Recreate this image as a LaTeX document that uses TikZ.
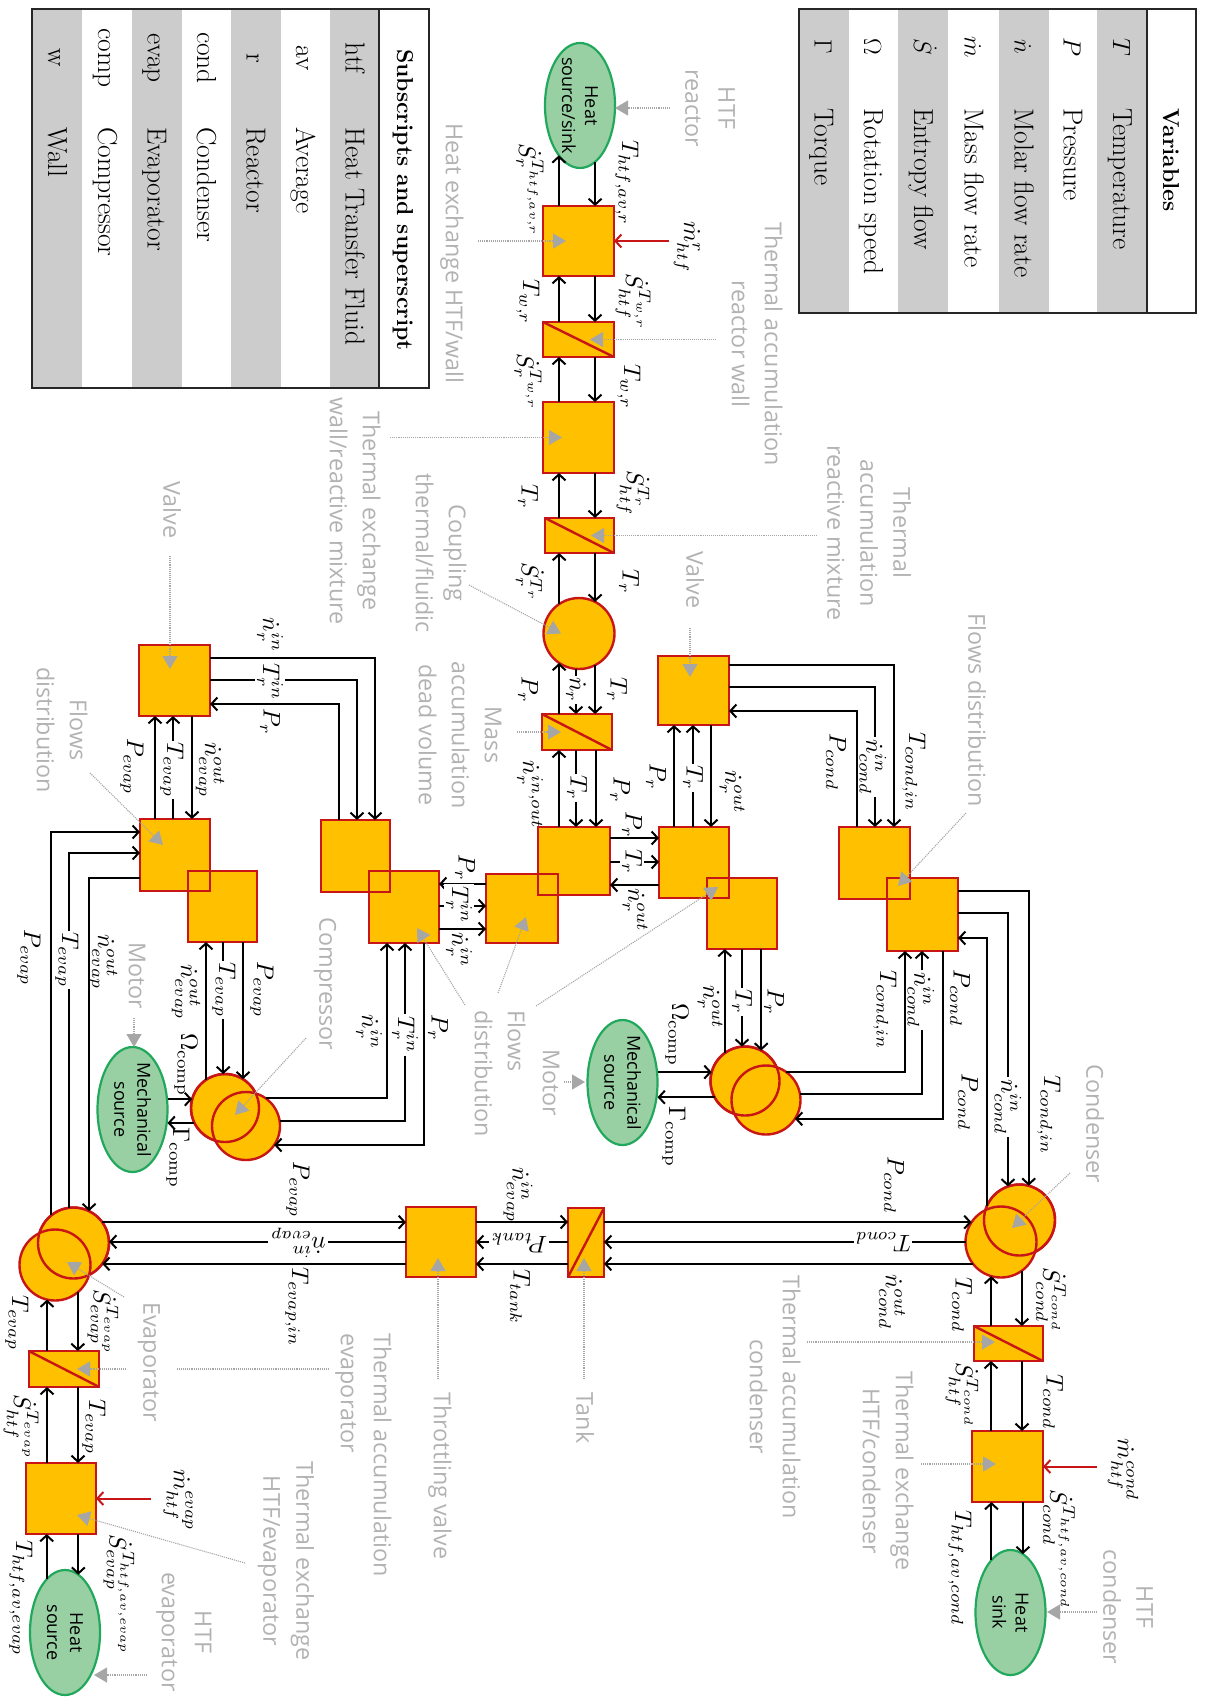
\documentclass[tikz,border=0pt]{standalone}
\usepackage{amsmath, amssymb}
\usepackage{fontspec}
\setsansfont{Open Sans}
\usepackage{tikz}
\usetikzlibrary{arrows.meta, calc, shapes.geometric}

\definecolor{blockfill}{RGB}{255,192,0}
\definecolor{blockred}{RGB}{200,22,22}
\definecolor{srcfill}{RGB}{152,208,164}
\definecolor{srcgreen}{RGB}{34,168,92}
\definecolor{notegrey}{RGB}{178,178,178}
\definecolor{tipgrey}{RGB}{166,166,166}
\definecolor{bandgrey}{RGB}{204,204,204}

\tikzset{
    block/.style={draw=blockred, fill=blockfill, line width=2.4pt, inner sep=0pt, outer sep=0pt},
    edge/.style={draw=blockred, line width=2.4pt},
    src/.style={ellipse, draw=srcgreen, fill=srcfill, line width=2.2pt, inner sep=0pt, outer sep=0pt,
        minimum width=70pt, minimum height=125pt},
    srclabel/.style={rotate=-90, align=center, inner sep=0pt, font=\sffamily\fontsize{18}{23}\selectfont},
    flow/.style={-{Straight Barb[length=6pt,width=13pt,line width=2pt]}, line width=2pt},
    redflow/.style={-{Straight Barb[length=6pt,width=13pt,line width=2pt]}, line width=2pt, color=blockred},
    lead/.style={-{Triangle[length=13pt,width=15pt]}, densely dotted, line width=1.1pt, color=tipgrey},
    leadplain/.style={densely dotted, line width=1.1pt, color=tipgrey},
    note/.style={rotate=-90, align=center, text=notegrey, inner sep=0pt, font=\sffamily\fontsize{23.3}{33}\selectfont},
    mlab/.style={rotate=-90, scale=2.4, inner sep=0.5pt},
    monl/.style={rotate=-90, scale=2.4, inner sep=0.8pt, fill=white},
    mrot/.style={rotate=180, scale=2.4, inner sep=0.8pt, fill=white},
    celltext/.style={rotate=-90, inner sep=0pt, text height=18pt, text depth=0pt, font=\fontsize{27.5}{30}\selectfont},
    headtext/.style={rotate=-90, inner sep=0pt, font=\bfseries\fontsize{23}{28}\selectfont},
    frame/.style={draw=black!85, line width=2.6pt},
}

\begin{document}
\begin{tikzpicture}[x=1pt, y=-1pt]
    \useasboundingbox (0,0) rectangle (1207,1698);

    % subscripts table
    \foreach \x in {32, 132, 231, 330} {
        \fill[bandgrey] (\x,9) rectangle (\x+49.5,388);
    }
    \draw[frame] (32,9) rectangle (429,388);
    \draw[frame] (379,9) -- (379,388);
    \node[headtext] (subhead) at (403,200) {Subscripts and superscript};
    \foreach \x/\a/\b [count=\i] in {354.5/htf/Heat Transfer Fluid, 305/av/Average, 255.5/r/Reactor, 206/cond/Condenser,
        156.5/evap/Evaporator, 107/comp/Compressor, 57/w/Wall} {
        \node[celltext] (subkey\i) at (\x,58) {\a};
        \node[celltext, anchor=west] (subval\i) at (\x,127) {\b};
    }

    % variables table
    \foreach \x in {799, 898, 999, 1097} {
        \fill[bandgrey] (\x,9) rectangle (\x+49.5,313);
    }
    \draw[frame] (799,9) rectangle (1196,313);
    \draw[frame] (1147,9) -- (1147,313);
    \node[headtext] (varhead) at (1171,160) {Variables};
    \foreach \x/\a/\b [count=\i] in {1122/T/Temperature, 1072.5/P/Pressure, 1023.5/\dot{n}/Molar flow rate, 973.5/\dot{m}/Mass flow rate,
        923/\dot{S}/Entropy flow, 873/\Omega/Rotation speed, 823.5/\Gamma/Torque} {
        \node[celltext] (varkey\i) at (\x,47) {$\a$};
        \node[celltext, anchor=west] (varval\i) at (\x,108) {\b};
    }

    % sources
    \node[src] (hsrs) at (580,105.5) {};
    \node[src] (mechl) at (132.5,1109.5) {};
    \node[src] (mechr) at (622.5,1082.5) {};
    \node[src] (hsrc) at (65,1632.5) {};
    \node[src] (hsink) at (1010.5,1612.5) {};
    \node[srclabel] (hsrstext) at (hsrs) {Heat\\source/sink};
    \node[srclabel] (mechltext) at (mechl) {Mechanical\\source};
    \node[srclabel] (mechrtext) at (mechr) {Mechanical\\source};
    \node[srclabel] (hsrctext) at (hsrc) {Heat\\source};
    \node[srclabel] (hsinktext) at (hsink) {Heat\\sink};

    % blocks
    \foreach \nm/\x/\y/\w/\h in {b1/578.5/241/71/70, b2/578.5/339.5/71/35, b3/578.5/437.5/71/71, b4/579.5/535.5/69/35,
        b5/577/732/70/36, b6/574/861/72/68, b7/522/908.5/72/69, rv/693.5/690.5/71/69, b8/694/862.5/70/71, b9/742/913.5/70/71,
        cda/874.5/863/71/72, cdb/922.5/914.5/71/73, lv/174.5/680.5/71/71, lda/175/855/70/72, ldb/222.5/906.5/69/71,
        ma/355.5/856/69/72, mb/404/907/70/72, thr/441/1242/70/70, tank/586/1242.5/36/69, eacc/64/1369/70.5/36,
        eex/61/1498.5/70/71, cacc/1008.5/1343.5/69/35, cex/1007.5/1466.5/71/71} {
        \node[block, minimum width=\w pt, minimum height=\h pt] (\nm) at (\x,\y) {};
    }
    \foreach \nm/\x/\y/\r in {cpl/579/633.5/35.5, lc1/225/1108/34, lc2/246/1126/34, rc1/745/1081/34.5, rc2/766/1100/34.5,
        ec1/73.5/1243/35.5, ec2/55/1265/35.5, cc1/1019.5/1220/35.5, cc2/1001/1242/35.5} {
        \node[block, circle, minimum size=2*\r pt] (\nm) at (\x,\y) {};
    }

    % outlines seen through the overlaps
    \foreach \nm in {b6, b8, cda, lda, ma} {
        \draw[edge] (\nm.north west) rectangle (\nm.south east);
    }
    \draw[edge] (lc1.center) circle[radius=34pt];
    \draw[edge] (rc1.center) circle[radius=34.5pt];
    \draw[edge] (ec1.center) circle[radius=35.5pt];
    \draw[edge] (cc1.center) circle[radius=35.5pt];

    % diagonals
    \foreach \nm in {b2, b4, b5, eacc, cacc} {
        \draw[edge] (\nm.north west) -- (\nm.south east);
    }
    \draw[edge] (tank.south west) -- (tank.north east);

    % reactor chain
    \draw[flow] (hsrs.247 |- b1.north) -- (hsrs.247);
    \draw[flow] (hsrs.285) -- (hsrs.285 |- b1.north);
    \draw[flow] (559,0 |- b2.north) -- (559,0 |- b1.south);
    \draw[flow] (595,0 |- b1.south) -- (595,0 |- b2.north);
    \draw[flow] (559,0 |- b3.north) -- (559,0 |- b2.south);
    \draw[flow] (595,0 |- b2.south) -- (595,0 |- b3.north);
    \draw[flow] (559,0 |- b4.north) -- (559,0 |- b3.south);
    \draw[flow] (595,0 |- b3.south) -- (595,0 |- b4.north);
    \draw[flow] (cpl.124) -- (cpl.124 |- b4.south);
    \draw[flow] (cpl.63 |- b4.south) -- (cpl.63);
    \draw[flow] (cpl.236 |- b5.north) -- (cpl.236);
    \draw[flow] (cpl.265) -- (cpl.265 |- b5.north);
    \draw[flow] (cpl.297) -- (cpl.297 |- b5.north);
    \draw[flow] (559,0 |- b6.north) -- (559,0 |- b5.south);
    \draw[flow] (576,0 |- b5.south) -- (576,0 |- b6.north);
    \draw[flow] (596,0 |- b5.south) -- (596,0 |- b6.north);

    % central distribution
    \draw[flow] (b6.east |- 0,838) -- (b8.west |- 0,838);
    \draw[flow] (b6.east |- 0,862) -- (b8.west |- 0,862);
    \draw[flow] (b8.west |- 0,885) -- (b6.east |- 0,885);
    \draw[flow] (b7.west |- 0,884) -- (mb.east |- 0,884);
    \draw[flow] (mb.east |- 0,906) -- (b7.west |- 0,906);
    \draw[flow] (mb.east |- 0,929) -- (b7.west |- 0,929);

    % right branch
    \draw[flow] (rv.east |- 0,665) -| (894,0 |- cda.north);
    \draw[flow] (rv.east |- 0,687) -| (875,0 |- cda.north);
    \draw[flow] (857,0 |- cda.north) |- (rv.east |- 0,711);
    \draw[flow] (674,0 |- b8.north) -- (674,0 |- rv.south);
    \draw[flow] (693,0 |- b8.north) -- (693,0 |- rv.south);
    \draw[flow] (711,0 |- rv.south) -- (711,0 |- b8.north);
    \draw[flow] (rc1.126) -- (rc1.126 |- b9.south);
    \draw[flow] (rc1.95 |- b9.south) -- (rc1.95);
    \draw[flow] (rc1.62 |- b9.south) -- (rc1.62);
    \draw[flow] (rc1.165 -| mechr.east) -- (rc1.165);
    \draw[flow] (rc1.208) -- (rc1.208 -| mechr.east);
    \draw[flow] (rc2.54) -| (905,0 |- cdb.south);
    \draw[flow] (rc2.10) -| (922,0 |- cdb.south);
    \draw[flow] (943,0 |- cdb.south) |- (rc2.327);
    \draw[flow] (cdb.east |- 0,891) -| (cc1.75);
    \draw[flow] (cdb.east |- 0,913) -| (cc1.109);
    \draw[flow] (cc1.156) |- (cdb.east |- 0,938);

    % left branch
    \draw[flow] (lv.east |- 0,658) -| (375,0 |- ma.north);
    \draw[flow] (lv.east |- 0,680) -| (357,0 |- ma.north);
    \draw[flow] (339,0 |- ma.north) |- (lv.east |- 0,704);
    \draw[flow] (155,0 |- lda.north) -- (155,0 |- lv.south);
    \draw[flow] (173,0 |- lda.north) -- (173,0 |- lv.south);
    \draw[flow] (192,0 |- lv.south) -- (192,0 |- lda.north);
    \draw[flow] (ec1.129) |- (lda.west |- 0,832);
    \draw[flow] (ec1.97) |- (lda.west |- 0,853);
    \draw[flow] (lda.west |- 0,878) -| (ec1.64);
    \draw[flow] (lc1.124) -- (lc1.124 |- ldb.south);
    \draw[flow] (lc1.93 |- ldb.south) -- (lc1.93);
    \draw[flow] (lc1.58 |- ldb.south) -- (lc1.58);
    \draw[flow] (lc1.165 -| mechl.east) -- (lc1.165);
    \draw[flow] (lc1.206) -- (lc1.206 -| mechl.east);
    \draw[flow] (lc2.55) -| (387,0 |- mb.south);
    \draw[flow] (lc2.8) -| (405,0 |- mb.south);
    \draw[flow] (424,0 |- mb.south) |- (lc2.326);

    % bottom line
    \draw[flow] (ec1.36) -- (ec1.36 -| thr.west);
    \draw[flow] (ec1.2 -| thr.west) -- (ec1.2);
    \draw[flow] (ec1.324 -| thr.west) -- (ec1.324);
    \draw[flow] (thr.east |- 0,1222) -- (tank.west |- 0,1222);
    \draw[flow] (tank.west |- 0,1242) -- (thr.east |- 0,1242);
    \draw[flow] (tank.west |- 0,1264) -- (thr.east |- 0,1264);
    \draw[flow] (tank.east |- cc2.146) -- (cc2.146);
    \draw[flow] (cc2.west) -- (tank.east |- cc2.west);
    \draw[flow] (cc2.218) -- (tank.east |- cc2.218);

    % condenser chain
    \draw[flow] (cc2.254 |- cacc.north) -- (cc2.254);
    \draw[flow] (cc2.306) -- (cc2.306 |- cacc.north);
    \draw[flow] (991,0 |- cex.north) -- (991,0 |- cacc.south);
    \draw[flow] (1022,0 |- cacc.south) -- (1022,0 |- cex.north);
    \draw[flow] (hsink.110) -- (hsink.110 |- cex.south);
    \draw[flow] (hsink.78 |- cex.south) -- (hsink.78);

    % evaporator chain
    \draw[flow] (ec2.257 |- eacc.north) -- (ec2.257);
    \draw[flow] (ec2.310) -- (ec2.310 |- eacc.north);
    \draw[flow] (47,0 |- eex.north) -- (47,0 |- eacc.south);
    \draw[flow] (78,0 |- eacc.south) -- (78,0 |- eex.north);
    \draw[flow] (hsrc.109) -- (hsrc.109 |- eex.south);
    \draw[flow] (hsrc.77 |- eex.south) -- (hsrc.77);

    % htf mass flows
    \draw[redflow] (669,0 |- b1.east) -- (b1.east);
    \draw[redflow] (151,0 |- eex.east) -- (eex.east);
    \draw[redflow] (1097,0 |- cex.east) -- (cex.east);

    % variable labels
    \foreach \x/\y/\t [count=\i] in {
        530/190/{\dot S_r^{T_{htf,av,r}}}, 528/302/{T_{w,r}}, 528/382/{\dot S_r^{T_{w,r}}}, 528/497/{T_r},
        530/582/{\dot S_r^{T_r}}, 528/690/{P_r}, 530/795/{\dot n_r^{in,out}}, 627/183/{T_{htf,av,r}},
        687/247/{\dot m_{htf}^{r}}, 633/302/{\dot S_{htf}^{T_{w,r}}}, 629/387/{T_{w,r}}, 633/493/{\dot S_{htf}^{T_r}},
        629/582/{T_r}, 617/690/{T_r}, 620/790/{P_r}, 632/825/{P_r}, 635/910/{\dot n_r^{out}}, 656/777/{P_r},
        732/792/{\dot n_r^{out}}, 914/772/{T_{cond,in}}, 836/762/{P_{cond}}, 270/635/{\dot n_r^{in}}, 270/722/{P_r},
        132/767/{P_{evap}}, 210/770/{\dot n_{evap}^{out}}, 465/868/{P_r}, 459/950/{\dot n_r^{in}}, 29/958/{P_{evap}},
        103/962/{\dot n_{evap}^{out}}, 186/992/{\dot n_{evap}^{out}}, 262/990/{P_{evap}}, 186/1065/{\Omega_{\mathrm{comp}}},
        178/1158/{\Gamma_{\mathrm{comp}}}, 369/1032/{\dot n_r^{in}}, 438/1028/{P_r}, 298/1190/{P_{evap}},
        518/1195/{\dot n_{evap}^{in}}, 297/1307/{T_{evap,in}}, 520/1297/{T_{tank}}, 710/1007/{\dot n_r^{out}}, 774/1002/{P_r},
        677/1035/{\Omega_{\mathrm{comp}}}, 674/1137/{\Gamma_{\mathrm{comp}}}, 885/1010/{T_{cond,in}}, 960/998/{P_{cond}},
        968/1102/{P_{cond}}, 1049/1115/{T_{cond,in}}, 894/1185/{P_{cond}}, 1051/1300/{\dot S_{cond}^{T_{cond}}},
        962/1305/{T_{cond}}, 892/1302/{\dot n_{cond}^{out}}, 1053/1402/{T_{cond}}, 962/1395/{\dot S_{htf}^{T_{cond}}},
        1123/1470/{\dot m_{htf}^{cond}}, 1059/1550/{\dot S_{cond}^{T_{htf,av,cond}}}, 960/1568/{T_{htf,av,cond}},
        103/1322/{\dot S_{evap}^{T_{evap}}}, 17/1323/{T_{evap}}, 21/1427/{\dot S_{htf}^{T_{evap}}}, 94/1427/{T_{evap}},
        178/1500/{\dot m_{htf}^{evap}}, 119/1595/{\dot S_{evap}^{T_{htf,av,evap}}}, 21/1598/{T_{htf,av,evap}}} {
        \node[mlab] (lab\i) at (\x,\y) {$\t$};
    }
    % labels sitting on a line
    \foreach \x/\y/\t [count=\i] in {
        576/690/{\dot n_r}, 577/788/{T_r}, 693/778/{T_r}, 632/862/{T_r}, 873/767/{\dot n_{cond}^{in}}, 270/682/{T_r^{in}},
        172/770/{T_{evap}}, 459/905/{T_r^{in}}, 67/960/{T_{evap}}, 224/990/{T_{evap}}, 405/1035/{T_r^{in}}, 742/1002/{T_r},
        921/1000/{\dot n_{cond}^{in}}, 1008/1107/{\dot n_{cond}^{in}}} {
        \node[monl] (onl\i) at (\x,\y) {$\t$};
    }
    \node[mrot] (rotnevap) at (298,1243) {$\dot n_{evap}^{in}$};
    \node[mrot] (rotptank) at (519,1243) {$P_{tank}$};
    \node[mrot] (rottcond) at (883,1242) {$T_{cond}$};

    % grey notes
    \node[note] (nhtfr) at (710,108) {HTF\\reactor};
    \node[note] (nhxw) at (452,253) {Heat exchange HTF/wall};
    \node[note] (ntaw) at (757,344) {Thermal accumulation\\reactor wall};
    \node[note] (ntew) at (355,511) {Thermal exchange\\wall/reactive mixture};
    \node[note] (ncpl) at (441,553) {Coupling\\thermal/fluidic};
    \node[note] (nmas) at (460,735) {Mass\\accumulation\\dead volume};
    \node[note] (ntar) at (869,533) {Thermal\\accumulation\\reactive mixture};
    \node[note] (nvlr) at (695,580) {Valve};
    \node[note] (nfdc) at (977,710) {Flows distribution};
    \node[note] (nvll) at (172,510) {Valve};
    \node[note] (nfdl) at (62,730) {Flows\\distribution};
    \node[note] (nmtl) at (137,976) {Motor};
    \node[note] (ncmp) at (325,984) {Compressor};
    \node[note, align=left] (nfdm) at (500,1073.5) {Flows\\distribution};
    \node[note] (nmtr) at (551,1083) {Motor};
    \node[note] (ncnd) at (1095,1124) {Condenser};
    \node[note] (ntnk) at (585,1418) {Tank};
    \node[note] (ntvl) at (440,1476) {Throttling valve};
    \node[note] (nevp) at (149,1362) {Evaporator};
    \node[note, align=left] (ntae) at (363.5,1455) {Thermal accumulation\\evaporator};
    \node[note] (ntee) at (286,1561) {Thermal exchange\\HTF/evaporator};
    \node[note] (nhte) at (184,1632) {HTF\\evaporator};
    \node[note] (ntac) at (775,1397) {Thermal accumulation\\condenser};
    \node[note] (ntxc) at (888,1471) {Thermal exchange\\HTF/condenser};
    \node[note] (nhtc) at (1128,1607) {HTF\\condenser};

    % leaders
    \foreach \nm/\sx/\sy/\tm/\tx/\ty in {
        nhtfr/-40/0/hsrs/35/2.5, nhxw/26/-12/b1/-12.5/0, ntaw/-41/-4.5/b2/11.5/0, ntew/35/-73.5/b3/-16.5/0,
        ncpl/28/32/cpl/-18/0, nmas/57/-3/b5/-16/0, ntar/-52/2.5/b4/11.5/0, nvlr/-5/48/rv/-3.5/-13.5,
        nfdc/-11/103/cdb/-24.5/-28.5, nvll/-2/46/lv/-4.5/-11.5, nfdl/28/43/lda/-12/-10, nmtl/-3/42/mechl/1.5/-62.5,
        ncmp/-19/54/lc1/10/7, nfdm/-35/-68.5/mb/13/21, nfdm/-2/-80.5/b7/4/8.5, nfdm/36/-67.5/b9/-24/-26.5,
        nmtr/13/-1/mechr/-37.5/-0.5, ncnd/-25/49/cc1/-7.5/8, ntnk/-1/-39/tank/-2/15.5, ntvl/-2/-97/thr/-3/16,
        nevp/-25/-65/ec1/-6.5/19, ntee/-41/2/eex/16/16.5, nhte/-37/43/hsrc/29/42.5, ntac/32/-55/cacc/-13.5/-1.5,
        ntxc/33/-7/cex/-11.5/-2.5, nhtc/-31/5/hsink/36.5/-0.5, nevp/-23/7/eacc/13/0} {
        \draw[lead] ($(\nm)+(\sx,\sy)$) -- ($(\tm)+(\tx,\ty)$);
    }
    \draw[leadplain] ($(ntae)+(-34.5,-86)$) -- ($(nevp)+(27,7)$);
\end{tikzpicture}
\end{document}
